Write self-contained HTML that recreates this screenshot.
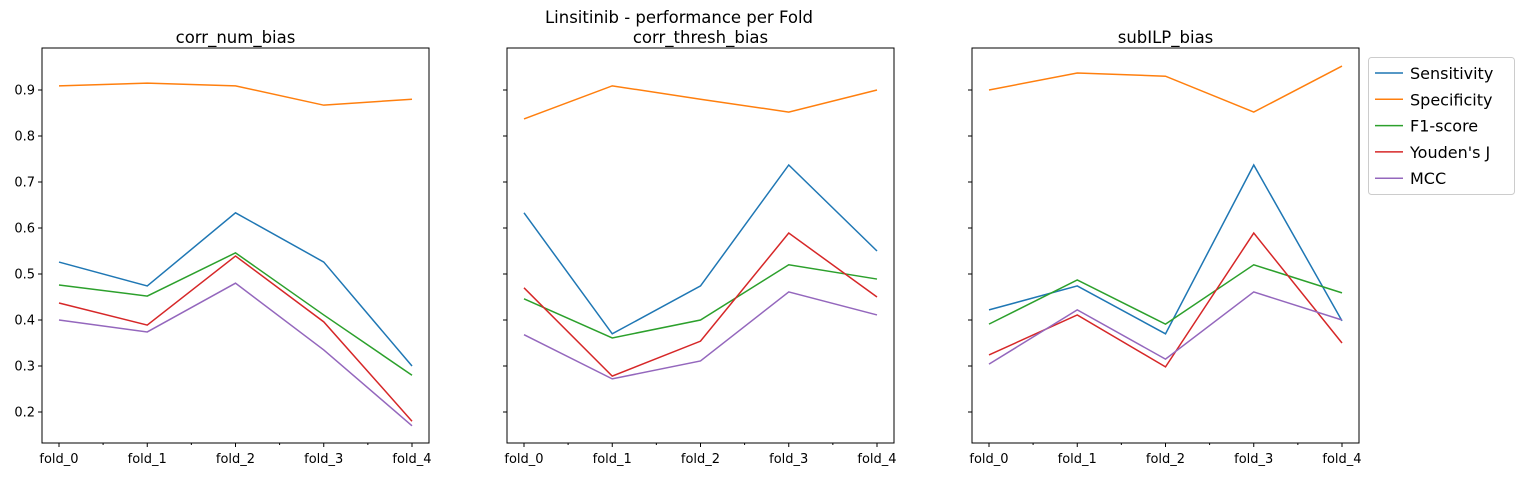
<!DOCTYPE html>
<html><head><meta charset="utf-8"><style>
body{margin:0;background:#fff;}
svg{display:block;font-family:"DejaVu Sans","Liberation Sans",sans-serif;}
</style></head><body>
<svg id="chart" width="1524" height="478" viewBox="0 0 1524 478"></svg>
<script>
const folds = ["fold_0","fold_1","fold_2","fold_3","fold_4"];
const panelTitles = ["corr_num_bias","corr_thresh_bias","subILP_bias"];
const seriesNames = ["Sensitivity","Specificity","F1-score","Youden's J","MCC"];
const yTicks = [0.2,0.3,0.4,0.5,0.6,0.7,0.8,0.9];
const sensitivity = [[0.526,0.474,0.633,0.526,0.30],[0.633,0.37,0.474,0.737,0.55],[0.422,0.474,0.37,0.737,0.398]];
const specificity = [[0.909,0.915,0.909,0.867,0.880],[0.837,0.909,0.88,0.852,0.90],[0.90,0.937,0.93,0.852,0.952]];
const f1score = [[0.476,0.452,0.546,0.411,0.28],[0.446,0.361,0.40,0.52,0.489],[0.391,0.487,0.391,0.52,0.459]];
const youdensJ = [[0.437,0.389,0.539,0.396,0.18],[0.47,0.278,0.354,0.589,0.45],[0.324,0.411,0.298,0.589,0.35]];
const mcc = [[0.40,0.374,0.48,0.335,0.17],[0.368,0.272,0.311,0.461,0.411],[0.304,0.422,0.315,0.461,0.40]];
const allSeries = [sensitivity,specificity,f1score,youdensJ,mcc];
const colors = ["#1f77b4","#ff7f0e","#2ca02c","#d62728","#9467bd"];

const svgEl = document.getElementById('chart');
const NS = "http://www.w3.org/2000/svg";
function mk(tag, attrs, parent){const e=document.createElementNS(NS,tag);for(const k in attrs)e.setAttribute(k,attrs[k]);(parent||svgEl).appendChild(e);return e;}
const panelLeft=[42,507,972], pw=387, plotTop=48, plotBottom=443;
function yScale(v){return 412-(v-0.2)*460;}
function xScale(p,i){return panelLeft[p]+17+i*88.25;}

const figTitle = mk('text',{x:679,y:23,'text-anchor':'middle','font-size':16.5});
figTitle.textContent="Linsitinib - performance per Fold";



for(let p=0;p<3;p++){
  const g=mk('g',{});
  
  
  const t=mk('text',{x:panelLeft[p]+pw/2,y:43,'text-anchor':'middle','font-size':16.5},g);
  t.textContent=panelTitles[p];
  
  
  yTicks.forEach(v=>{
    const y=yScale(v);
    mk('line',{x1:panelLeft[p]-4,x2:panelLeft[p],y1:y,y2:y,stroke:'#000','stroke-width':1},g);
    if(p===0){const tl=mk('text',{x:panelLeft[p]-7,y:y+4.5,'text-anchor':'end','font-size':13},g);tl.textContent=v.toFixed(1);
      
      }
  });
  for(let i=0;i<folds.length;i++){
    const x=xScale(p,i);
    mk('line',{x1:x,x2:x,y1:plotBottom,y2:plotBottom+4,stroke:'#000'},g);
    if(i<folds.length-1){const xm=x+44.1;mk('line',{x1:xm,x2:xm,y1:plotBottom,y2:plotBottom+2,stroke:'#000'},g);}
    const tl=mk('text',{x:x,y:plotBottom+20,'text-anchor':'middle','font-size':13},g);
    tl.textContent=folds[i];
    
    
  }
  allSeries.forEach((s,k)=>{
    const pts=s[p].map((v,i)=>xScale(p,i)+','+yScale(v)).join(' ');
    const pl=mk('polyline',{points:pts,fill:'none',stroke:colors[k],'stroke-width':1.5},g);
    
    
  });
  mk('rect',{x:panelLeft[p],y:plotTop,width:pw,height:plotBottom-plotTop,fill:'none',stroke:'#000','stroke-width':1},g);
}
const lg=mk('g',{});


mk('rect',{x:1368.5,y:57.5,width:146,height:137,rx:3,fill:'#fff',stroke:'#ccc'},lg);
seriesNames.forEach((n,k)=>{
  const y=73+k*26.3;
  mk('line',{x1:1375,x2:1403,y1:y,y2:y,stroke:colors[k],'stroke-width':1.5},lg);
  const t=mk('text',{x:1410,y:y+6,'font-size':16},lg);
  t.textContent=n;
  
  
});
</script>
</body></html>
